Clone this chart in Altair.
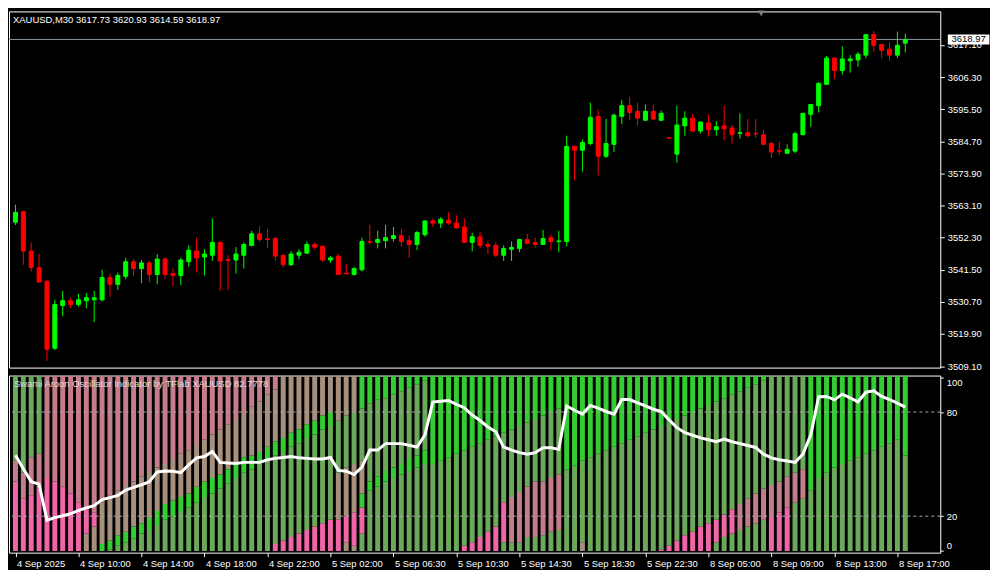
import json
import altair as alt
import pandas as pd

FONT = "Liberation Sans"
symbol = "XAUUSD,M30"
indicator_name = "Swami Aroon Oscillator Indicator by TFlab XAUUSD"

opens = [3557.5, 3561.1, 3547.8, 3542.2, 3537.6, 3515.1, 3529.5, 3531.1, 3529.8, 3531.1,
         3531.4, 3531.4, 3538.9, 3536.6, 3539.3, 3544.2, 3541.9, 3543.8, 3539.9, 3545.1,
         3540.2, 3539.6, 3544.2, 3547.8, 3545.8, 3546.4, 3550.7, 3544.9, 3544.8, 3546.4,
         3549.7, 3553.6, 3551.9, 3552.0, 3546.4, 3543.2, 3546.4, 3547.1, 3550.0, 3549.4,
         3544.8, 3546.1, 3540.4, 3539.9, 3541.5, 3551.0, 3550.7, 3551.3, 3552.0, 3553.0,
         3551.3, 3550.0, 3553.3, 3557.9, 3557.2, 3558.2, 3557.2, 3555.9, 3550.7, 3552.6,
         3550.0, 3549.7, 3546.4, 3548.4, 3548.7, 3551.7, 3550.7, 3550.0, 3552.3, 3551.0,
         3551.0, 3583.0, 3581.7, 3584.0, 3593.1, 3579.7, 3583.7, 3593.1, 3596.7, 3594.8,
         3591.8, 3594.8, 3591.8, 3585.9, 3580.4, 3589.9, 3592.5, 3588.2, 3590.9, 3588.6,
         3589.9, 3589.2, 3587.4, 3587.6, 3587.3, 3586.9, 3584.0, 3581.5, 3580.7, 3581.4,
         3587.0, 3593.8, 3596.7, 3603.9, 3612.7, 3608.5, 3611.8, 3612.1, 3613.7, 3620.6,
         3617.3, 3615.7, 3613.7, 3617.73]
highs = [3563.4, 3561.3, 3550.7, 3546.8, 3538.2, 3531.4, 3534.4, 3532.1, 3533.4, 3533.7,
         3534.4, 3541.5, 3540.2, 3540.6, 3545.5, 3545.1, 3544.8, 3544.5, 3546.8, 3545.8,
         3541.9, 3545.5, 3549.7, 3552.3, 3548.4, 3558.8, 3551.0, 3546.4, 3549.1, 3550.7,
         3554.6, 3556.2, 3555.3, 3552.6, 3546.6, 3547.8, 3548.4, 3551.0, 3550.7, 3549.7,
         3546.1, 3546.8, 3543.5, 3542.5, 3552.3, 3556.6, 3554.6, 3556.6, 3555.9, 3555.3,
         3553.0, 3554.6, 3558.2, 3558.8, 3559.2, 3560.8, 3559.8, 3558.8, 3553.9, 3554.3,
         3551.0, 3550.7, 3549.7, 3551.0, 3551.9, 3553.6, 3552.3, 3554.9, 3553.3, 3554.6,
         3586.6, 3583.3, 3585.3, 3597.7, 3595.4, 3592.2, 3594.1, 3598.7, 3599.7, 3597.7,
         3597.1, 3597.1, 3595.1, 3586.0, 3596.7, 3594.8, 3593.8, 3591.4, 3593.8, 3591.5,
         3596.7, 3590.2, 3594.1, 3592.2, 3592.2, 3588.6, 3584.6, 3584.6, 3583.7, 3587.9,
         3594.3, 3597.3, 3604.6, 3613.4, 3612.9, 3616.7, 3613.7, 3614.7, 3620.8, 3621.9,
         3617.5, 3618.0, 3621.6, 3620.93]
lows = [3556.6, 3543.2, 3540.9, 3537.2, 3510.9, 3514.5, 3525.9, 3528.5, 3529.1, 3528.5,
        3523.9, 3530.8, 3532.4, 3534.7, 3538.3, 3539.3, 3537.0, 3537.3, 3536.6, 3538.3,
        3536.0, 3536.3, 3542.5, 3540.9, 3539.6, 3544.5, 3534.4, 3534.7, 3540.2, 3541.9,
        3549.4, 3551.0, 3548.7, 3544.5, 3542.2, 3542.8, 3545.1, 3546.8, 3548.4, 3544.2,
        3543.8, 3539.7, 3539.9, 3539.6, 3540.9, 3550.0, 3548.7, 3548.7, 3551.0, 3549.4,
        3545.5, 3548.1, 3552.6, 3555.9, 3555.6, 3556.6, 3555.3, 3550.5, 3547.7, 3548.7,
        3546.8, 3545.8, 3544.5, 3544.5, 3547.4, 3550.0, 3549.0, 3549.8, 3548.1, 3547.4,
        3549.4, 3571.6, 3574.5, 3583.3, 3573.2, 3579.1, 3581.1, 3590.5, 3591.8, 3589.9,
        3591.5, 3591.8, 3591.5, 3585.6, 3577.5, 3586.6, 3587.9, 3587.3, 3586.3, 3586.6,
        3585.0, 3584.0, 3585.6, 3586.0, 3586.0, 3583.3, 3579.1, 3580.1, 3580.4, 3580.7,
        3586.6, 3589.6, 3594.4, 3603.6, 3605.6, 3607.2, 3607.8, 3609.8, 3612.7, 3614.7,
        3612.7, 3611.8, 3612.7, 3614.59]
closes = [3560.8, 3547.8, 3542.3, 3537.4, 3514.8, 3529.8, 3531.1, 3529.8, 3531.4, 3532.1,
          3532.1, 3538.9, 3536.6, 3539.6, 3544.2, 3541.9, 3543.8, 3539.9, 3545.1, 3539.9,
          3539.6, 3544.8, 3548.1, 3545.5, 3546.8, 3550.7, 3544.5, 3544.7, 3546.8, 3550.0,
          3553.6, 3551.7, 3551.7, 3546.1, 3543.2, 3546.8, 3547.4, 3550.0, 3549.1, 3544.8,
          3545.5, 3539.9, 3540.2, 3541.9, 3551.0, 3550.8, 3551.7, 3552.3, 3553.0, 3551.0,
          3550.0, 3554.0, 3557.9, 3557.2, 3558.5, 3557.2, 3555.6, 3550.7, 3552.6, 3549.7,
          3549.4, 3546.4, 3548.7, 3549.0, 3551.7, 3550.4, 3550.0, 3552.0, 3551.0, 3551.2,
          3583.0, 3581.7, 3584.3, 3592.8, 3579.7, 3584.0, 3593.5, 3596.7, 3594.4, 3592.5,
          3594.8, 3592.2, 3594.1, 3585.8, 3590.2, 3592.5, 3588.2, 3591.2, 3588.6, 3589.6,
          3588.9, 3586.9, 3587.6, 3586.6, 3587.2, 3583.7, 3581.1, 3581.4, 3582.0, 3587.3,
          3594.1, 3597.1, 3604.2, 3612.7, 3608.5, 3612.4, 3612.4, 3614.0, 3620.6, 3617.0,
          3615.3, 3613.7, 3617.0, 3618.97]

osc = [55.1, 47.3, 39.9, 38.5, 17.7, 19.2, 20.3, 21.4, 23.3, 24.8,
       26.1, 29.6, 30.7, 32.0, 35.1, 36.6, 38.1, 39.9, 45.5, 46.0,
       45.9, 45.1, 49.6, 53.6, 54.4, 57.3, 51.0, 50.7, 50.3, 51.0,
       51.0, 51.0, 52.5, 53.3, 53.8, 54.4, 53.6, 53.3, 52.9, 52.9,
       53.8, 46.4, 45.9, 44.0, 48.3, 58.1, 58.1, 61.8, 61.8, 61.8,
       60.9, 59.8, 66.8, 85.7, 86.2, 86.6, 84.4, 82.5, 78.3, 75.1,
       71.4, 68.6, 59.8, 58.1, 56.6, 55.7, 56.6, 59.4, 59.4, 58.5,
       83.5, 81.0, 78.8, 83.8, 82.2, 80.3, 78.8, 87.2, 87.2, 85.3,
       83.5, 81.6, 80.3, 75.5, 71.0, 68.1, 66.6, 65.1, 64.0, 62.9,
       64.4, 62.9, 61.8, 60.7, 59.6, 55.7, 53.6, 52.5, 51.8, 51.0,
       55.7, 66.8, 88.8, 89.0, 87.0, 90.3, 88.1, 85.9, 91.4, 92.2,
       89.0, 87.2, 85.1, 82.7778]

# Swami heat-map: per bar, colour segments from bottom to top ("colour:upper value")
stripes = [
    "P:40 Q:52 O:100", "P:30 Q:45 O:100", "P:32 Q:54 O:100", "P:36 Q:56 O:100",
    "P:42 Q:100", "P:40 Q:100", "P:37 Q:100", "P:33 Q:100", "P:28 Q:100",
    "T:10 P:24 Q:100", "T:14 P:22 Q:100", "G:4 T:28 Q:100",
    "O:1 G:6 T:32 Q:100", "O:3 G:9 T:35 Q:100", "O:5 G:11 T:38 Q:100",
    "O:7 G:14 T:40 Q:100", "O:10 G:16 T:43 Q:100", "O:12 G:19 T:46 Q:100",
    "O:15 G:23 T:48 Q:100", "O:18 G:27 T:50 Q:100", "O:20 G:29 T:53 Q:100",
    "O:23 G:31 T:56 Q:100", "O:25 G:33 T:58 Q:100", "O:28 G:37 T:61 Q:100",
    "O:31 G:40 T:64 Q:100", "O:33 G:42 T:67 Q:100", "O:36 G:44 T:70 Q:100",
    "O:39 G:47 T:73 Q:100", "O:42 G:50 T:76 Q:100", "O:45 G:54 T:80 Q:100",
    "O:47 G:55 T:83 Q:100", "O:50 G:57 T:86 Q:100", "O:52 G:60 T:90 Q:100",
    "P:4 O:55 G:63 T:93 Q:100", "P:6 O:57 G:65 T:100", "P:8 O:60 G:68 T:100",
    "P:10 O:62 G:70 T:100", "P:12 O:65 G:73 T:100", "P:14 O:67 G:75 T:100",
    "P:16 O:70 G:78 T:100", "P:18 O:72 G:80 T:100",
    "P:18 T:45 O:75 T:100", "T:5 P:20 T:48 O:78 T:100", "T:3 P:22 T:50 O:80 T:100",
    "O:10 P:25 G:33 T:52 O:82 G:100", "O:35 G:40 O:85 G:100", "O:37 G:43 O:87 G:100",
    "O:40 G:46 O:88 G:100", "O:42 G:48 O:90 G:100", "O:44 G:50 O:92 G:100",
    "O:46 G:53 O:94 G:100", "O:48 G:55 O:96 G:100", "O:50 G:58 O:98 G:100",
    "O:50 G:100", "O:52 G:100", "O:54 G:100", "O:56 G:100",
    "P:3 O:58 G:100", "P:5 O:60 G:100", "P:8 O:62 G:100", "P:11 O:64 G:100",
    "P:14 O:66 G:100", "O:5 P:28 O:68 G:100", "O:5 Q:31 O:70 G:100",
    "O:5 Q:34 O:72 G:100", "O:8 Q:37 O:74 G:100", "O:8 Q:40 O:76 G:100",
    "O:9 Q:40 O:78 G:100", "O:11 Q:42 O:80 G:100", "O:12 Q:44 O:82 G:100",
    "O:47 G:100", "O:49 G:100", "T:5 O:52 G:100", "O:54 G:100", "O:56 G:100",
    "O:58 G:100", "O:60 G:100", "O:62 G:100", "O:64 G:100", "O:66 G:100",
    "O:68 G:100", "O:70 G:100",
    "P:1 O:72 G:100", "P:3 O:74 G:100", "P:6 O:76 G:100", "P:9 O:78 G:100",
    "P:11 O:80 G:100", "P:14 O:82 G:100", "P:16 O:84 G:100", "O:5 P:18 O:86 G:100",
    "O:8 P:21 O:88 G:100", "O:10 P:24 O:90 G:100", "O:12 Q:27 O:92 G:100",
    "O:14 Q:30 O:94 G:100", "O:16 Q:33 O:96 G:100", "O:18 Q:36 O:98 G:100",
    "P:20 Q:38 O:100", "P:22 Q:40 O:100", "P:25 Q:43 O:100", "O:28 Q:45 O:100",
    "O:30 Q:47 O:100",
    "O:35 G:100", "O:42 G:100", "O:45 G:100", "O:48 G:100", "O:50 G:100",
    "O:52 G:100", "O:54 G:100", "O:56 G:100", "O:58 G:100", "O:60 G:100",
    "O:62 G:100", "O:64 G:100", "O:55 G:100",
]
palette = {"P": "#f064a8", "Q": "#c57c8a", "T": "#a68f7c", "O": "#6aa85a", "G": "#33cc33"}

price_ticks = [3509.10, 3519.90, 3530.70, 3541.50, 3552.30, 3563.10, 3573.90,
               3584.70, 3595.50, 3606.30, 3617.10]
osc_ticks = [0, 20, 80, 100]
osc_levels = [20, 80]
time_tick_bars = [0, 8, 16, 24, 32, 40, 48, 56, 64, 72, 80, 88, 96, 104, 112]
time_labels = ["4 Sep 2025", "4 Sep 10:00", "4 Sep 14:00", "4 Sep 18:00", "4 Sep 22:00",
               "5 Sep 02:00", "5 Sep 06:30", "5 Sep 10:30", "5 Sep 14:30", "5 Sep 18:30",
               "5 Sep 22:30", "8 Sep 05:00", "8 Sep 09:00", "8 Sep 13:00", "8 Sep 17:00"]

n = len(closes)
candles = pd.DataFrame({"bar": list(range(n)), "open": opens, "high": highs,
                        "low": lows, "close": closes})
candles["dir"] = ["up" if c >= o else "down" for o, c in zip(opens, closes)]

rows = []
for i, s in enumerate(stripes):
    lo = 0.0
    for seg in s.split():
        c, top = seg.split(":")
        top = float(top)
        rows.append({"bar": i, "y0": lo, "y1": 101.0 if top >= 100 else top, "color": palette[c]})
        lo = top
stripe_df = pd.DataFrame(rows)
osc_df = pd.DataFrame({"bar": list(range(n)), "osc": osc})

W, H1, H2 = 936, 358, 178
xscale = alt.Scale(domain=[-0.19, 116.81], nice=False, zero=False)
pscale = alt.Scale(domain=[3508.6, 3628.4], nice=False, zero=False)
oscale = alt.Scale(domain=[-1, 101], nice=False, zero=False)
col = alt.Color("dir:N", scale=alt.Scale(domain=["up", "down"], range=["#00ff00", "#ff0000"]), legend=None)
stk = alt.Stroke("dir:N", scale=alt.Scale(domain=["up", "down"], range=["#00ff00", "#ff0000"]), legend=None)

price_axis = alt.Axis(orient="right", values=price_ticks, format=".2f", tickSize=4,
                      labelPadding=3, title=None, labelFlush=False)

base = alt.Chart(candles)
wicks = base.mark_rule(strokeWidth=1).encode(
    x=alt.X("bar:Q", scale=xscale, axis=None),
    y=alt.Y("low:Q", scale=pscale, axis=price_axis),
    y2="high:Q", color=col)
bodies = base.mark_bar(size=4, strokeWidth=1).encode(
    x=alt.X("bar:Q", scale=xscale, axis=None),
    y=alt.Y("open:Q", scale=pscale, axis=price_axis),
    y2="close:Q", color=col, stroke=stk)

last = pd.DataFrame({"p": [closes[-1]]})
pline = alt.Chart(last).mark_rule(color="#8c97a2", strokeWidth=1).encode(
    y=alt.Y("p:Q", scale=pscale, axis=price_axis))
BOX = "M-3.8,-0.9L3.8,-0.9L3.8,0.9L-3.8,0.9Z"
pbox = alt.Chart(last).mark_point(shape=BOX, size=121, filled=True, color="#ffffff",
                                  opacity=1, clip=False).encode(
    x=alt.value(W + 28.5), y=alt.Y("p:Q", scale=pscale, axis=price_axis))
ptext = alt.Chart(last).mark_text(color="#000000", fontSize=9.5, font=FONT, clip=False).encode(
    x=alt.value(W + 28.5), y=alt.Y("p:Q", scale=pscale, axis=price_axis),
    text=alt.Text("p:Q", format=".2f"))

title_str = f"{symbol}  {opens[-1]:.2f} {highs[-1]:.2f} {lows[-1]:.2f} {closes[-1]:.2f}"
title = alt.Chart(pd.DataFrame({"t": [title_str]})).mark_text(
    align="left", baseline="top", color="#ffffff", fontSize=9.5, font=FONT).encode(
    x=alt.value(4), y=alt.value(4), text="t:N")
tri = alt.Chart(pd.DataFrame({"a": [0]})).mark_point(
    shape="triangle-down", filled=True, color="#808080", size=45, opacity=1).encode(
    x=alt.value(756), y=alt.value(2))

main = alt.layer(pline, wicks, bodies, title, tri, pbox, ptext).properties(width=W, height=H1)

label_expr = f"{json.dumps(time_labels)}[indexof({json.dumps(time_tick_bars)}, datum.value)]"
time_axis = alt.Axis(values=time_tick_bars, labelExpr=label_expr, labelAlign="left",
                     labelOffset=1, labelPadding=2, tickSize=4, labelOverlap=False,
                     labelBaseline="top", title=None)
osc_axis = alt.Axis(orient="right", values=osc_ticks, tickSize=3, labelPadding=3,
                    labelFlush=3, title=None)

bands = alt.Chart(stripe_df).mark_bar(size=5, clip=True).encode(
    x=alt.X("bar:Q", scale=xscale, axis=time_axis),
    y=alt.Y("y0:Q", scale=oscale, axis=osc_axis),
    y2="y1:Q",
    color=alt.Color("color:N", scale=None))
lv = alt.Chart(pd.DataFrame({"lv": osc_levels})).mark_rule(
    color="#a8a8a8", strokeDash=[3, 3], strokeWidth=1).encode(
    y=alt.Y("lv:Q", scale=oscale, axis=osc_axis))
oline = alt.Chart(osc_df).mark_line(color="#ffffff", strokeWidth=3, clip=True).encode(
    x=alt.X("bar:Q", scale=xscale, axis=time_axis),
    y=alt.Y("osc:Q", scale=oscale, axis=osc_axis))
osc_val = f"{indicator_name} {osc[-1]:.4f}"
ilabel = alt.Chart(pd.DataFrame({"t": [osc_val]})).mark_text(
    align="left", baseline="top", color="#dcdcdc", fontSize=9.5, font=FONT).encode(
    x=alt.value(5), y=alt.value(3), text="t:N")

ind = alt.layer(bands, lv, oline, ilabel).properties(width=W, height=H2)

chart = alt.vconcat(main, ind, spacing=3).properties(
    padding=0, background="#000000"
).configure_view(stroke="#ffffff", strokeWidth=1).configure_axis(
    grid=False, domain=False, labelColor="#ffffff", tickColor="#ffffff",
    labelFont=FONT, labelFontSize=9.5
)

chart.save("out.html", embed_options={"renderer": "svg", "actions": False})
